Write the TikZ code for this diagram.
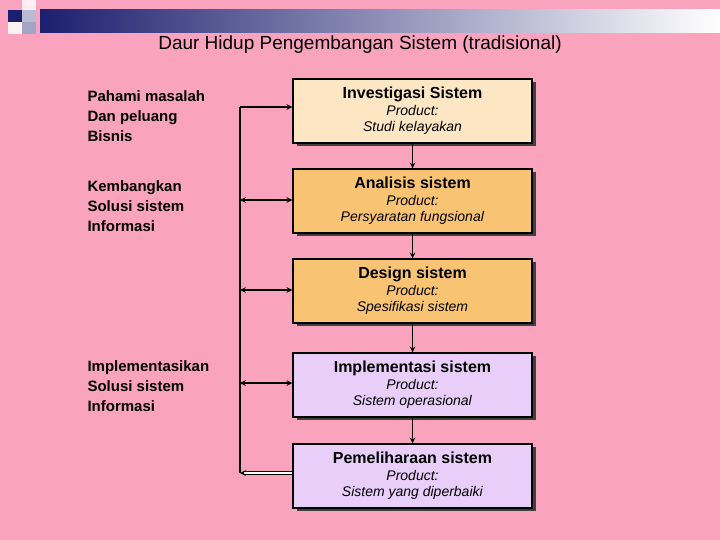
\documentclass[tikz,border=0pt]{standalone}
\usepackage{fontspec}
\setmainfont{Liberation Sans}
\usetikzlibrary{positioning, arrows}
\definecolor{bgpink}{HTML}{F9A3BE}
\definecolor{navy}{HTML}{1C1F6E}
\definecolor{cream}{HTML}{FCE6C4}
\definecolor{orng}{HTML}{F8C474}
\definecolor{lilac}{HTML}{E8CEF8}
\tikzstyle{phase} = [draw=black, line width=1.5pt, minimum width=239pt, minimum height=64pt, align=center, inner sep=1pt,
    font=\fontsize{14}{16}\selectfont]
\tikzstyle{task} = [anchor=west, align=left, font=\fontsize{15}{20}\selectfont\bfseries]
\tikzstyle{arrow} = [line width=1.5pt, ->, >= stealth]
\tikzstyle{darrow} = [line width=1.5pt, <->, >= stealth]
\newcommand{\phasetext}[2]{\textbf{\fontsize{16}{18}\selectfont #1}\\[1pt]\textit{Product:}\\\textit{#2}}
\begin{document}
\begin{tikzpicture}[x=1pt, y=-1pt]
    \useasboundingbox[fill=bgpink] (0,0) rectangle (720,540);
    % title band and corner squares
    \shade[left color=navy, right color=white] (40,10) rectangle (720,33);
    \fill[navy] (8,10) rectangle (22,22);
    \fill[white!80!bgpink] (22,0) rectangle (36,10);
    \fill[white!70!navy] (22,10) rectangle (36,22);
    \fill[white!60!navy] (22,22) rectangle (36,34);
    \fill[white!85!bgpink] (8,22) rectangle (22,34);
    \node (title) at (360,45) {\fontsize{19}{22}\selectfont Daur Hidup Pengembangan Sistem (tradisional)};

    \foreach \nm/\y/\col/\t/\p in {inv/110/cream/Investigasi Sistem/Studi kelayakan,
        ana/200/orng/Analisis sistem/Persyaratan fungsional,
        des/290/orng/Design sistem/Spesifikasi sistem,
        imp/384/lilac/Implementasi sistem/Sistem operasional,
        pem/475/lilac/Pemeliharaan sistem/Sistem yang diperbaiki}{
        \fill[black!75] (297,\y-28) rectangle (536,\y+36);
        \node[phase, fill=\col] (\nm) at (412.5,\y+1) {\phasetext{\t}{\p}};
    }

    \node[task] (t1) at (84,116) {Pahami masalah\\Dan peluang\\Bisnis};
    \node[task] (t2) at (84,206) {Kembangkan\\Solusi sistem\\Informasi};
    \node[task] (t3) at (84,386) {Implementasikan\\Solusi sistem\\Informasi};

    \coordinate (top) at (240,107);
    \coordinate (bot) at (240,473);
    \foreach \y in {200,290,383} \coordinate (c\y) at (240,\y);

    \draw[arrow] (inv.south) -- (ana.north);
    \draw[arrow] (ana.south) -- (des.north);
    \draw[arrow] (des.south) -- (imp.north);
    \draw[arrow] (imp.south) -- (pem.north);
    \draw[line width=1.5pt] (bot) -- (top);
    \draw[arrow] (top) -- (top -| inv.west);
    \draw[darrow] (c200) -- (c200 -| ana.west);
    \draw[darrow] (c290) -- (c290 -| des.west);
    \draw[darrow] (c383) -- (c383 -| imp.west);
    \draw[line width=1pt, double, double distance=1.5pt, -{stealth}] (bot -| pem.west) -- (bot);
\end{tikzpicture}
\end{document}
